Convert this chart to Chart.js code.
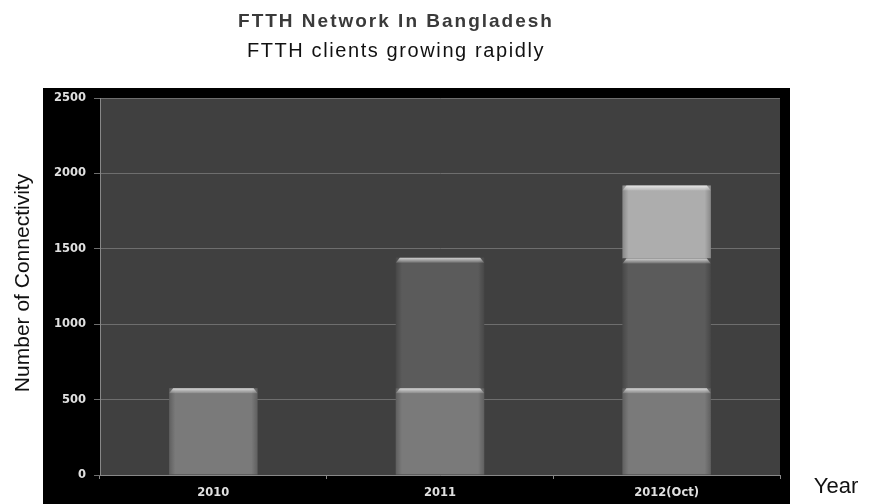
<!DOCTYPE html>
<html>
<head>
<meta charset="utf-8">
<script src="https://cdn.jsdelivr.net/npm/chart.js@4.4.1/dist/chart.umd.min.js"></script>
<style>
  html, body { margin: 0; padding: 0; background: #fff; }
  #wrap { width: 869px; height: 504px; }
</style>
</head>
<body>
<div id="wrap"><canvas id="ftthChart" width="869" height="504"></canvas></div>
<script>
const years = ['2010', '2011', '2012(Oct)'];
const base2010 = [575, 575, 575];
const added2011 = [0, 865, 860];
const added2012 = [0, 0, 485];
const yTicks = [0, 500, 1000, 1500, 2000, 2500];

const titleText = 'FTTH Network In Bangladesh';
const subtitleText = 'FTTH clients growing rapidly';
const yTitle = 'Number of Connectivity';
const xTitle = 'Year';

// ─── background frame + plot fill ───
const frame = {
  id: 'frame',
  beforeDraw(chart) {
    const { ctx, chartArea: a } = chart;
    ctx.save();
    ctx.fillStyle = '#fff';
    ctx.fillRect(0, 0, chart.width, chart.height);
    ctx.fillStyle = '#000';
    ctx.fillRect(43, 88, 747, 416);
    ctx.fillStyle = '#404040';
    ctx.fillRect(a.left, a.top, a.right - a.left, a.bottom - a.top);
    ctx.restore();
  }
};

// ─── glossy caps on each segment ───
const gloss = {
  id: 'gloss',
  afterDatasetsDraw(chart) {
    const ctx = chart.ctx;
    ctx.save();
    chart.data.datasets.forEach((ds, i) => {
      chart.getDatasetMeta(i).data.forEach((bar, j) => {
        if (!ds.data[j]) return;
        const w = bar.width, x0 = bar.x - w / 2, top = bar.y, bot = bar.base;
        // side shading
        let g = ctx.createLinearGradient(x0, 0, x0 + w, 0);
        g.addColorStop(0, 'rgba(0,0,0,0.22)');
        g.addColorStop(0.07, 'rgba(0,0,0,0)');
        g.addColorStop(0.93, 'rgba(0,0,0,0)');
        g.addColorStop(1, 'rgba(0,0,0,0.22)');
        ctx.fillStyle = g;
        ctx.fillRect(x0, top, w, bot - top);
        // top highlight
        g = ctx.createLinearGradient(0, top, 0, top + 6);
        g.addColorStop(0, 'rgba(255,255,255,0.7)');
        g.addColorStop(1, 'rgba(255,255,255,0)');
        ctx.fillStyle = g;
        ctx.beginPath();
        ctx.moveTo(x0 + 4, top);
        ctx.lineTo(x0 + w - 4, top);
        ctx.lineTo(x0 + w, top + 5);
        ctx.lineTo(x0, top + 5);
        ctx.closePath();
        ctx.fill();
      });
    });
    ctx.restore();
  }
};

// ─── titles ───
const labels = {
  id: 'labels',
  afterDraw(chart) {
    const ctx = chart.ctx;
    ctx.save();
    ctx.textAlign = 'center';
    ctx.textBaseline = 'alphabetic';
    ctx.fillStyle = '#3a3a3a';
    ctx.font = 'bold 19px "Liberation Sans", Arial, sans-serif';
    ctx.letterSpacing = '2px';
    ctx.fillText(titleText, 396, 27);
    ctx.fillStyle = '#111';
    ctx.font = '20px "Liberation Sans", Arial, sans-serif';
    ctx.letterSpacing = '1.6px';
    ctx.fillText(subtitleText, 396, 57);
    ctx.letterSpacing = '0px';
    ctx.font = '22px "Liberation Sans", Arial, sans-serif';
    ctx.fillText(xTitle, 836, 493);
    ctx.font = '21px "Liberation Sans", Arial, sans-serif';
    ctx.translate(29, 283);
    ctx.rotate(-Math.PI / 2);
    ctx.fillText(yTitle, 0, 0);
    ctx.restore();
  }
};

const tickFont = { family: '"DejaVu Sans", sans-serif', size: 11.5, weight: 'bold' };

new Chart(document.getElementById('ftthChart'), {
  type: 'bar',
  data: {
    labels: years,
    datasets: [
      { label: '2010', data: base2010, backgroundColor: '#7a7a7a' },
      { label: '2011', data: added2011, backgroundColor: '#5b5b5b' },
      { label: '2012', data: added2012, backgroundColor: '#adadad' }
    ]
  },
  options: {
    responsive: false, animation: false,
    layout: { padding: { left: 43, right: 89, top: 98, bottom: 0 } },
    datasets: { bar: { barPercentage: 0.39, categoryPercentage: 1, borderWidth: 0 } },
    plugins: { legend: { display: false }, tooltip: { enabled: false } },
    scales: {
      x: {
        stacked: true,
        afterFit: s => { s.height = 29; },
        grid: { display: true, drawOnChartArea: false, offset: true, color: '#888', tickLength: 4 },
        border: { color: '#888' },
        ticks: { color: '#e0e0e0', font: tickFont, padding: 7 }
      },
      y: {
        stacked: true, min: 0, max: 2500,
        afterFit: s => { s.width = 57; },
        afterBuildTicks: s => { s.ticks = yTicks.map(v => ({ value: v })); },
        grid: { color: '#6e6e6e', tickLength: 6 },
        border: { color: '#888' },
        ticks: { color: '#e0e0e0', font: tickFont, padding: 8, callback: v => String(v) }
      }
    }
  },
  plugins: [frame, gloss, labels]
});
</script>
</body>
</html>
